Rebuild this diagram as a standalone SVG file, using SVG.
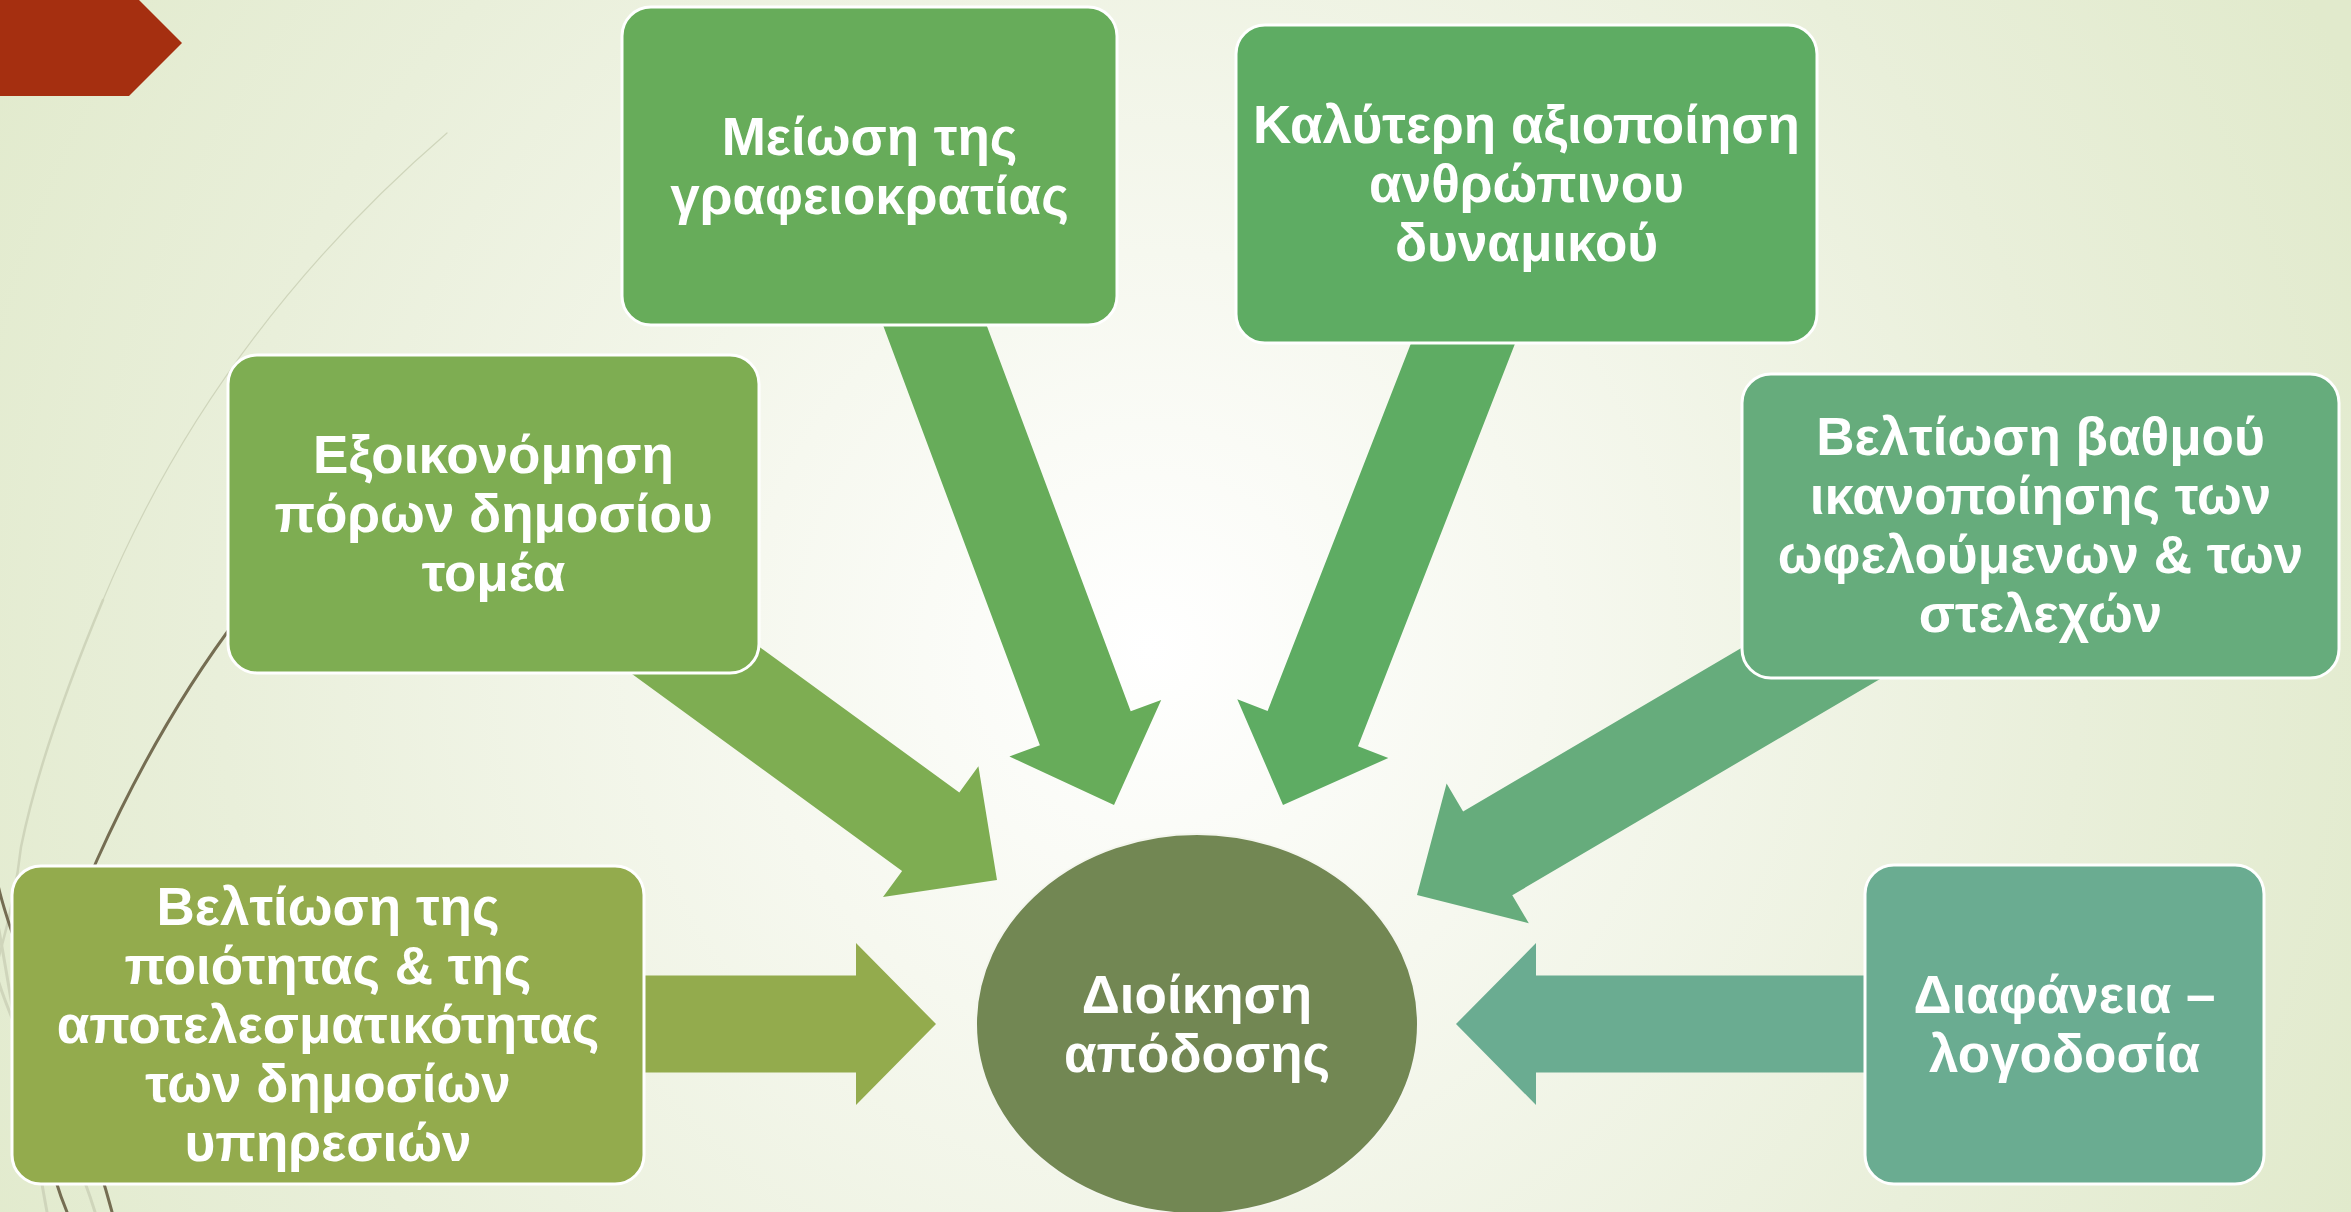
<svg xmlns="http://www.w3.org/2000/svg" width="2351" height="1212" viewBox="0 0 2351 1212">
  <defs>
    <radialGradient id="bg" gradientUnits="userSpaceOnUse" cx="1150" cy="650" r="1330">
      <stop offset="0" stop-color="#ffffff"/>
      <stop offset="0.3" stop-color="#f6f8ef"/>
      <stop offset="0.7" stop-color="#e9efda"/>
      <stop offset="1" stop-color="#e1eacc"/>
    </radialGradient>
    <style>
      .box { stroke: #ffffff; stroke-width: 3; }
      .lbl { font-family: "Liberation Sans", Arial, sans-serif; font-weight: bold; font-size: 53px; fill: #ffffff; text-anchor: middle; }
      .light { fill: none; stroke: #cfd5bb; stroke-linecap: round; }
      .dark { fill: none; stroke: #756d52; stroke-width: 3; stroke-linecap: round; }
    </style>
  </defs>

  <rect x="0" y="0" width="2351" height="1212" fill="url(#bg)"/>

  <g id="decoration">
    <polygon points="0,-10 129,-10 182,43 129,96 0,96" fill="#a52f10"/>
    <path class="light" stroke-width="1.2" d="M447,133 Q215,333 103,600"/>
    <path class="light" stroke-width="2.5" d="M103,600 Q41,748 21,847 Q15,900 -2,960"/>
    <path class="dark" d="M240,615 Q160,720 97,860 Q5,1064 67,1212"/>
    <path class="dark" d="M-2,885 C15,960 80,1090 112,1212"/>
    <path class="light" stroke-width="3" d="M-2,925 C12,1000 30,1120 47,1212"/>
    <path class="light" stroke-width="3" d="M-2,980 C20,1050 70,1130 95,1212"/>
  </g>

  <g id="connectors">
    <polygon id="arrow-exoikonomisi" fill="#7ead52" points="596.7,648.3 902.1,870.9 883.0,897.1 997,880 978.4,766.3 959.3,792.5 653.9,569.9"/>
    <polygon id="arrow-meiosi" fill="#67ac5a" points="858.7,259.9 1039.9,745.2 1009.4,756.5 1114,805 1161.2,699.9 1130.7,711.2 949.5,225.9"/>
    <polygon id="arrow-kalyteri" fill="#5eac63" points="1455.8,228.4 1267.6,711.0 1237.3,699.2 1283,805 1388.3,758.0 1358.0,746.2 1546.2,263.6"/>
    <polygon id="arrow-vathmos" fill="#66ac7c" points="1875.1,569.3 1463.1,811.6 1446.6,783.6 1417,895 1528.8,923.2 1512.3,895.2 1924.3,652.9"/>
    <polygon id="arrow-diafaneia" fill="#6aac91" points="1900,975.5 1536,975.5 1536,943 1456,1024 1536,1105 1536,1072.5 1900,1072.5"/>
    <polygon id="arrow-poiotita" fill="#93ab4d" points="600,975.5 856,975.5 856,943 936,1024 856,1105 856,1072.5 600,1072.5"/>
  </g>

  <g id="node-meiosi">
    <rect class="box" x="622" y="7" width="495" height="318" rx="29" fill="#67ac5a"/>
    <text class="lbl" x="869.5" y="155">Μείωση της</text>
    <text class="lbl" x="869.5" y="214">γραφειοκρατίας</text>
  </g>

  <g id="node-kalyteri">
    <rect class="box" x="1236" y="25" width="581" height="318" rx="29" fill="#5eac63"/>
    <text class="lbl" x="1526.5" y="143">Καλύτερη αξιοποίηση</text>
    <text class="lbl" x="1526.5" y="202">ανθρώπινου</text>
    <text class="lbl" x="1526.5" y="261">δυναμικού</text>
  </g>

  <g id="node-exoikonomisi">
    <rect class="box" x="228" y="355" width="531" height="318" rx="29" fill="#7ead52"/>
    <text class="lbl" x="493.5" y="473">Εξοικονόμηση</text>
    <text class="lbl" x="493.5" y="532">πόρων δημοσίου</text>
    <text class="lbl" x="493.5" y="591">τομέα</text>
  </g>

  <g id="node-vathmos">
    <rect class="box" x="1742" y="374" width="597" height="304" rx="29" fill="#66ac7c"/>
    <text class="lbl" x="2040.5" y="455">Βελτίωση βαθμού</text>
    <text class="lbl" x="2040.5" y="514">ικανοποίησης των</text>
    <text class="lbl" x="2040.5" y="573">ωφελούμενων &amp; των</text>
    <text class="lbl" x="2040.5" y="632">στελεχών</text>
  </g>

  <g id="node-diafaneia">
    <rect class="box" x="1865" y="865" width="399" height="319" rx="29" fill="#6aac91"/>
    <text class="lbl" x="2064.5" y="1013">Διαφάνεια –</text>
    <text class="lbl" x="2064.5" y="1072">λογοδοσία</text>
  </g>

  <g id="node-poiotita">
    <rect class="box" x="12" y="866" width="632" height="318" rx="29" fill="#93ab4d"/>
    <text class="lbl" x="328" y="925">Βελτίωση της</text>
    <text class="lbl" x="328" y="984">ποιότητας &amp; της</text>
    <text class="lbl" x="328" y="1043">αποτελεσματικότητας</text>
    <text class="lbl" x="328" y="1102">των δημοσίων</text>
    <text class="lbl" x="328" y="1161">υπηρεσιών</text>
  </g>

  <g id="node-dioikisi">
    <ellipse cx="1197" cy="1024" rx="221" ry="190" fill="#728753" stroke="#f4f6ee" stroke-width="2"/>
    <text class="lbl" x="1197" y="1013">Διοίκηση</text>
    <text class="lbl" x="1197" y="1072">απόδοσης</text>
  </g>
</svg>
